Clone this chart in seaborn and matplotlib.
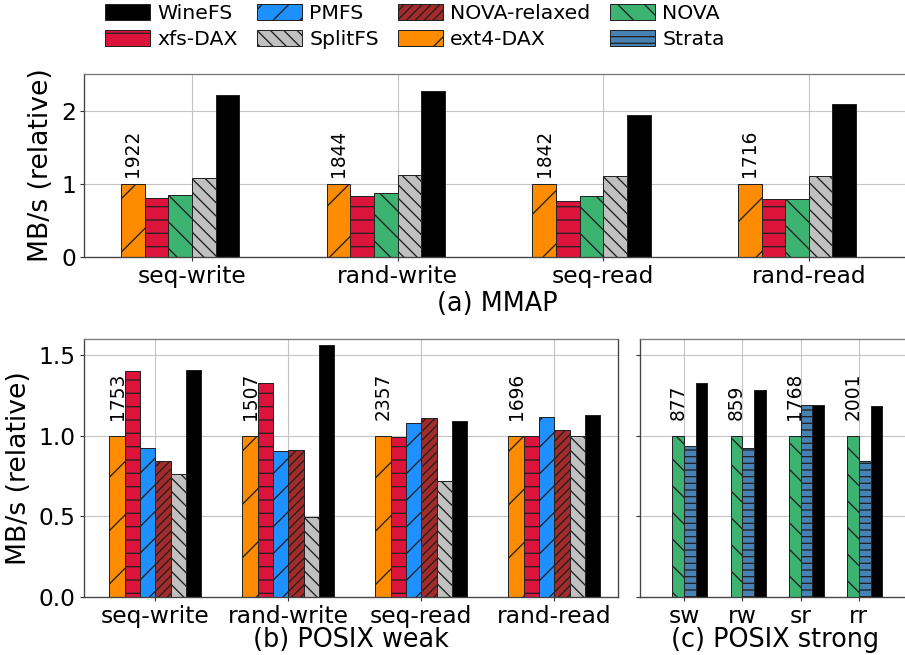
import numpy as np
import pandas as pd
import matplotlib
matplotlib.use("Agg")
import matplotlib.pyplot as plt
from matplotlib.patches import Patch
from matplotlib.colors import to_rgb
import seaborn as sns

# ---------------- data ----------------
mmap_categories = ["seq-write", "rand-write", "seq-read", "rand-read"]
mmap_ext4 = [1.00, 1.00, 1.00, 1.00]
mmap_xfs = [0.805, 0.828, 0.76, 0.783]
mmap_nova = [0.851, 0.865, 0.828, 0.783]
mmap_splitfs = [1.083, 1.124, 1.101, 1.11]
mmap_winefs = [2.206, 2.274, 1.943, 2.083]
mmap_ext4_abs = ["1922", "1844", "1842", "1716"]

weak_categories = ["seq-write", "rand-write", "seq-read", "rand-read"]
weak_ext4 = [1.00, 1.00, 1.00, 1.00]
weak_xfs = [1.403, 1.325, 0.992, 1.00]
weak_pmfs = [0.924, 0.903, 1.082, 1.119]
weak_nova_relaxed = [0.841, 0.914, 1.113, 1.033]
weak_splitfs = [0.763, 0.496, 0.722, 1.00]
weak_winefs = [1.41, 1.562, 1.093, 1.13]
weak_ext4_abs = ["1753", "1507", "2357", "1696"]

strong_categories = ["sw", "rw", "sr", "rr"]
strong_nova = [1.00, 1.00, 1.00, 1.00]
strong_strata = [0.934, 0.924, 1.191, 0.841]
strong_winefs = [1.325, 1.284, 1.191, 1.183]
strong_nova_abs = ["877", "859", "1768", "2001"]

legend_order = ["WineFS", "xfs-DAX", "PMFS", "SplitFS",
                "NOVA-relaxed", "ext4-DAX", "NOVA", "Strata"]

colors = {
    "WineFS": "#000000",
    "xfs-DAX": "#DC143C",
    "PMFS": "#1E90FF",
    "NOVA-relaxed": "#A52A2A",
    "SplitFS": "#C0C0C0",
    "ext4-DAX": "#FF8C00",
    "NOVA": "#3CB371",
    "Strata": "#4682B4",
    "_gap": "#FFFFFF",
}
hatches = {
    "WineFS": "",
    "xfs-DAX": "--",
    "PMFS": "//",
    "NOVA-relaxed": "//////",
    "SplitFS": "\\\\\\\\",
    "ext4-DAX": "/",
    "NOVA": "\\\\",
    "Strata": "----",
    "_gap": "",
}


def long_df(cats, series):
    rows = []
    for name, vals in series.items():
        for c, v in zip(cats, vals):
            rows.append({"bench": c, "fs": name, "value": v})
    return pd.DataFrame(rows)


df_mmap = long_df(mmap_categories, {
    "ext4-DAX": mmap_ext4, "xfs-DAX": mmap_xfs, "NOVA": mmap_nova,
    "SplitFS": mmap_splitfs, "WineFS": mmap_winefs})
df_weak = long_df(weak_categories, {
    "ext4-DAX": weak_ext4, "xfs-DAX": weak_xfs, "PMFS": weak_pmfs,
    "NOVA-relaxed": weak_nova_relaxed, "SplitFS": weak_splitfs,
    "WineFS": weak_winefs})
df_strong = long_df(strong_categories, {
    "NOVA": strong_nova, "Strata": strong_strata, "WineFS": strong_winefs})

# ---------------- style ----------------
sns.set_theme(style="white")
plt.rcParams["font.family"] = ["DejaVu Sans"]
plt.rcParams["text.color"] = "black"
plt.rcParams["axes.labelcolor"] = "black"
plt.rcParams["hatch.linewidth"] = 0.6
plt.rcParams["hatch.color"] = "black"
plt.rcParams["axes.edgecolor"] = "#444444"
plt.rcParams["axes.linewidth"] = 0.6

W, H, DPI = 905, 655, 160
fig = plt.figure(figsize=(W / DPI, H / DPI), dpi=DPI)

TICK_FS = 10.5
XLABEL_FS = 11.5
YLABEL_FS = 12
ANNOT_FS = 8.4


def px_axes(left, right, top, bottom):
    return fig.add_axes([left / W, 1 - bottom / H, (right - left) / W, (bottom - top) / H])


ax_top = px_axes(84.3, 910, 74, 256.7)
ax_bl = px_axes(84.3, 617.7, 339, 597)
ax_br = px_axes(640, 910, 339, 597)


def style_bars(ax):
    names = [n for n in colors]
    rgbs = {n: np.array(to_rgb(colors[n])) for n in names}
    for cont in ax.containers:
        if len(cont.patches) == 0:
            continue
        fc = np.array(cont.patches[0].get_facecolor()[:3])
        name = min(names, key=lambda n: np.sum((rgbs[n] - fc) ** 2))
        for p in cont.patches:
            p.set_hatch(hatches[name])
            p.set_edgecolor("#222222")
            p.set_linewidth(0.45)
        cont._fs_name = name


def find_container(ax, name):
    for cont in ax.containers:
        if getattr(cont, "_fs_name", None) == name:
            return cont
    return None


def draw_panel(ax, df, cats, hue_order, width, xlim, ylim, yticks, yfmt,
               xlabel, annot_name, annot_vals, annot_y, ylabel=None,
               show_yticklabels=True, xlabelpad=1.0):
    sns.barplot(data=df, x="bench", y="value", hue="fs", order=cats,
                hue_order=hue_order, palette=colors, saturation=1,
                width=width, gap=0, errorbar=None, legend=False, ax=ax,
                edgecolor="#222222", linewidth=0.45)
    style_bars(ax)
    ax.set_xlim(*xlim)
    ax.set_ylim(*ylim)
    ax.set_yticks(yticks)
    ax.set_yticklabels([yfmt.format(t) for t in yticks] if show_yticklabels else [])
    ax.grid(True, color="#c4c4c4", linewidth=0.5)
    ax.set_axisbelow(True)
    ax.tick_params(axis="both", labelsize=TICK_FS, length=1.8, width=0.5,
                   pad=2.0, colors="#333333", labelcolor="black")
    ax.tick_params(axis="both", which="both", bottom=True, left=True)
    ax.set_xlabel(xlabel, fontsize=XLABEL_FS, labelpad=xlabelpad, color="black")
    if ylabel:
        ax.set_ylabel(ylabel, fontsize=YLABEL_FS, labelpad=3, color="black")
    else:
        ax.set_ylabel("")
    for sp in ["top", "left", "bottom", "right"]:
        ax.spines[sp].set_visible(True)
        ax.spines[sp].set_color("#444444")
        ax.spines[sp].set_linewidth(0.6)
    ax.spines["top"].set_color("#7a7a7a")
    cont = find_container(ax, annot_name)
    for p, txt in zip(cont.patches, annot_vals):
        ax.text(p.get_x() + p.get_width() / 2, annot_y, txt, rotation=90,
                ha="center", va="bottom", fontsize=ANNOT_FS, color="black")


draw_panel(ax_top, df_mmap, mmap_categories,
           ["ext4-DAX", "xfs-DAX", "NOVA", "SplitFS", "WineFS", "_gap"],
           0.69, (-0.524, 3.492), (0, 2.5), [0, 1, 2], "{:g}",
           "(a) MMAP", "ext4-DAX", mmap_ext4_abs, 1.087,
           ylabel="MB/s (relative)", xlabelpad=1.5)

draw_panel(ax_bl, df_weak, weak_categories,
           ["ext4-DAX", "xfs-DAX", "PMFS", "NOVA-relaxed", "SplitFS", "WineFS"],
           0.69, (-0.534, 3.477), (0, 1.6), [0.0, 0.5, 1.0, 1.5], "{:.1f}",
           "(b) POSIX weak", "ext4-DAX", weak_ext4_abs, 1.10,
           ylabel="MB/s (relative)", xlabelpad=-0.5)

draw_panel(ax_br, df_strong, strong_categories,
           ["_gap", "NOVA", "Strata", "WineFS"],
           0.8, (-0.755, 3.876), (0, 1.6), [0.0, 0.5, 1.0, 1.5], "{:.1f}",
           "(c) POSIX strong", "NOVA", strong_nova_abs, 1.10, ylabel=None,
           show_yticklabels=False, xlabelpad=-0.5)

# ---------------- legend ----------------
handles = [Patch(facecolor=colors[n], edgecolor="#222222", linewidth=0.45,
                 hatch=hatches[n], label=n) for n in legend_order]
fig.legend(handles=handles, loc="upper left", bbox_to_anchor=(105 / W, 1 - 4 / H),
           ncol=4, frameon=False, fontsize=9.2, handlelength=2.2,
           handleheight=0.78, handletextpad=0.35, columnspacing=0.95,
           labelspacing=0.35, borderpad=0, borderaxespad=0)

fig.savefig("out.png", dpi=DPI)
